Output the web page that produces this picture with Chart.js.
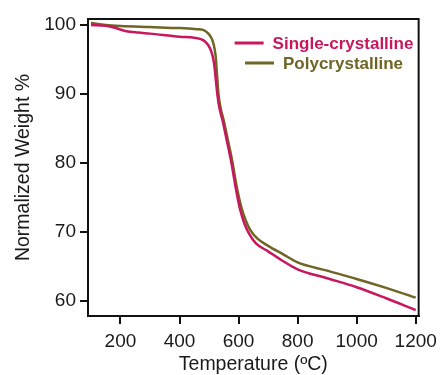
<!DOCTYPE html>
<html>
<head>
<meta charset="utf-8">
<script src="https://cdn.jsdelivr.net/npm/chart.js@4.4.0/dist/chart.umd.min.js"></script>
<style>
  body { margin: 0; background: #fff; }
  canvas { display: block; }
</style>
</head>
<body>
<canvas id="grafico" width="443" height="375"></canvas>
<script>
// valores (TGA)
const tempSingle = [100, 150, 180, 220, 260, 300, 400, 450, 480, 497, 508, 516, 522, 528, 535, 545, 560, 575, 590, 605, 620, 635, 658, 700, 750, 800, 900, 1000, 1100, 1200];
const pesoSingle = [100.0, 99.9, 99.6, 99.1, 98.9, 98.75, 98.3, 98.15, 97.8, 97.1, 96.1, 94.7, 92.5, 90.0, 88.0, 86.3, 83.3, 80.2, 76.5, 73.3, 71.2, 69.8, 68.4, 67.2, 65.8, 64.6, 63.3, 62.0, 60.4, 58.7];

const tempPoly = [100, 150, 200, 300, 400, 460, 480, 497, 507, 513, 519, 523, 527, 532, 539, 549, 564, 579, 594, 610, 625, 641, 665, 700, 750, 800, 900, 1000, 1100, 1200];
const pesoPoly = [100.3, 100.0, 99.85, 99.7, 99.55, 99.4, 99.3, 98.8, 98.2, 97.6, 96.5, 95.2, 92.8, 90.0, 88.0, 86.3, 83.3, 80.2, 76.5, 73.5, 71.6, 70.2, 69.0, 68.0, 66.8, 65.6, 64.4, 63.2, 61.9, 60.5];

const nomes = ['Single-crystalline', 'Polycrystalline'];
const cores = ['#c8175d', '#6f6524'];

const ticksX = [200, 400, 600, 800, 1000, 1200];
const ticksY = [60, 70, 80, 90, 100];

function pontos(xs, ys) {
    return xs.map((x, i) => ({ x: x, y: ys[i] }));
}

// caixa em volta da área do gráfico
const moldura = {
    id: 'moldura',
    afterDraw(chart) {
        const a = chart.chartArea;
        const ctx = chart.ctx;
        ctx.save();
        ctx.strokeStyle = '#111';
        ctx.lineWidth = 2;
        ctx.strokeRect(a.left, a.top, a.right - a.left, a.bottom - a.top);
        ctx.restore();
    }
};

// legenda desenhada dentro do gráfico, centralizada
const legenda = {
    id: 'legenda',
    afterDraw(chart) {
        const ctx = chart.ctx;
        ctx.save();
        ctx.font = 'bold 17px "Liberation Sans", Arial, sans-serif';
        chart.data.datasets.forEach((ds, i) => {
            const y = 43 + i * 20;
            const larguraTexto = ctx.measureText(ds.label).width;
            const total = 29 + 9 + larguraTexto;
            const x0 = 324 - total / 2;
            ctx.strokeStyle = ds.borderColor;
            ctx.lineWidth = 3;
            ctx.beginPath();
            ctx.moveTo(x0, y);
            ctx.lineTo(x0 + 29, y);
            ctx.stroke();
            ctx.fillStyle = ds.borderColor;
            ctx.textBaseline = 'alphabetic';
            ctx.fillText(ds.label, x0 + 38, y + 6);
        });
        ctx.restore();
    }
};

const fonte = { family: '"Liberation Sans", Arial, sans-serif', size: 19 };

new Chart(document.getElementById('grafico'), {
    type: 'line',
    data: {
        datasets: [
            {
                label: nomes[0],
                data: pontos(tempSingle, pesoSingle),
                borderColor: cores[0],
                borderWidth: 2.5,
                pointRadius: 0,
                cubicInterpolationMode: 'monotone'
            },
            {
                label: nomes[1],
                data: pontos(tempPoly, pesoPoly),
                borderColor: cores[1],
                borderWidth: 2.5,
                pointRadius: 0,
                cubicInterpolationMode: 'monotone'
            }
        ]
    },
    options: {
        responsive: false,
        animation: false,
        devicePixelRatio: 1,
        layout: { padding: { left: 0, right: 19, top: 19, bottom: 0 } },
        plugins: {
            legend: { display: false },
            tooltip: { enabled: false }
        },
        scales: {
            x: {
                type: 'linear',
                min: 90,
                max: 1210,
                afterBuildTicks: s => { s.ticks = ticksX.map(v => ({ value: v })); },
                afterFit: s => { s.height = 59; },
                grid: { drawOnChartArea: false, tickLength: 8, color: '#111', lineWidth: 2 },
                border: { display: true, color: '#111', width: 2 },
                ticks: { color: '#1a1a1a', font: fonte, padding: 6, maxRotation: 0, callback: v => String(v) },
                title: {
                    display: true,
                    text: 'Temperature (ºC)',
                    color: '#1a1a1a',
                    font: { family: fonte.family, size: 19.5, lineHeight: 1.1 },
                    padding: 0
                }
            },
            y: {
                min: 57.83,
                max: 100.87,
                afterBuildTicks: s => { s.ticks = ticksY.map(v => ({ value: v })); },
                afterFit: s => { s.width = 88; },
                grid: { drawOnChartArea: false, tickLength: 8, color: '#111', lineWidth: 2 },
                border: { display: true, color: '#111', width: 2 },
                ticks: { color: '#1a1a1a', font: fonte, padding: 4, callback: v => String(v) },
                title: {
                    display: true,
                    text: 'Normalized Weight %',
                    color: '#1a1a1a',
                    font: { family: fonte.family, size: 19.5, lineHeight: 1.2 },
                    padding: { top: 12, bottom: 0 }
                }
            }
        }
    },
    plugins: [moldura, legenda]
});
</script>
</body>
</html>
